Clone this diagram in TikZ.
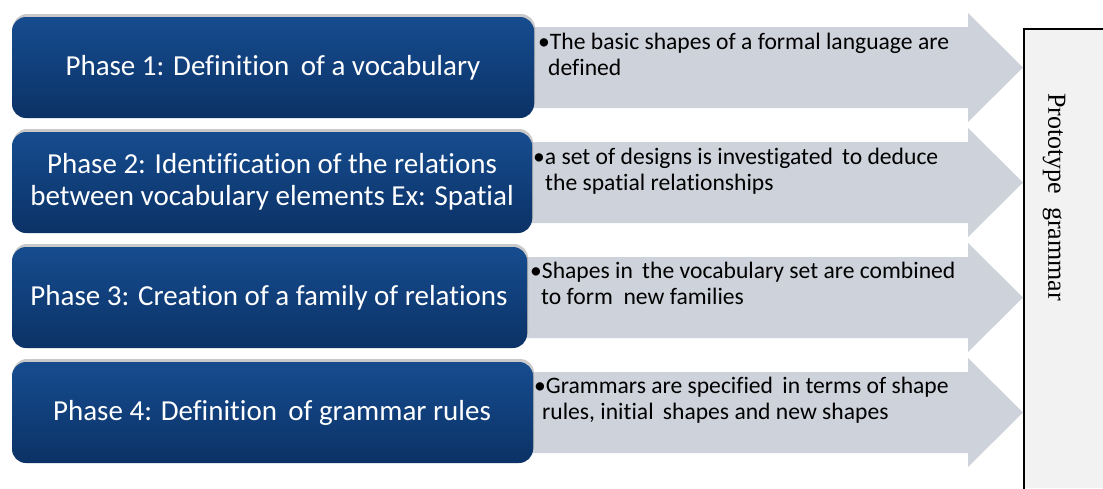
\documentclass[tikz,border=0pt]{standalone}
\usepackage{fontspec}
\setmainfont{Carlito}[Ligatures=NoCommon]
\newfontfamily\timesfont{Liberation Serif}
\usetikzlibrary{shadows}
\definecolor{boxtop}{RGB}{22,76,143}
\definecolor{boxbot}{RGB}{11,50,102}
\definecolor{arrowgray}{RGB}{206,210,218}
\definecolor{panelgray}{RGB}{242,242,242}
\tikzset{
  phasebox/.style={rounded corners=14pt, top color=boxtop, bottom color=boxbot, draw=none,
    drop shadow={opacity=0.35, shadow xshift=1pt, shadow yshift=3pt, fill=black!60}},
  phasetext/.style={text=white, font=\fontsize{29}{31.5}\selectfont, align=center, inner sep=0pt},
  arrowshape/.style={fill=arrowgray, draw=none},
  arrowtext/.style={text=black, font=\fontsize{23.6}{25.5}\selectfont, align=left, inner sep=0pt, anchor=north west},
}
\begin{document}
\begin{tikzpicture}[x=1pt,y=-1pt]
\useasboundingbox (0,0) rectangle (1103,488);
\fill[white] (0,0) rectangle (1103,488);
% right panel
\fill[panelgray] (1024,29) rectangle (1103,488);
\draw[line width=1.4pt, line cap=rect] (1103,29) -- (1024,29) -- (1024,488);
\node[font=\timesfont\fontsize{26}{28}\selectfont, rotate=-90, anchor=west, inner sep=0pt] (proto) at (1054,93) {Prototype \ grammar};
% arrows
\foreach \c in {67.5,182.5,297.5,412.5}{
  \fill[arrowshape] (520,\c-40.5) -- (968,\c-40.5) -- (968,\c-54.5) -- (1023,\c) -- (968,\c+54.5) -- (968,\c+40.5) -- (520,\c+40.5) -- cycle;
}
% phase boxes
\path[phasebox] (12,17) rectangle (534,118);
\path[phasebox] (12,132) rectangle (532,233);
\path[phasebox] (12,247) rectangle (527,348);
\path[phasebox] (12,362) rectangle (533,463);
\node[phasetext] (p1) at (273,67.5) {Phase 1: Definition \,of a vocabulary};
\node[phasetext] (p2) at (272,182) {Phase 2: Identification of the relations\\between vocabulary elements Ex: Spatial};
\node[phasetext] (p3) at (269,297.5) {Phase 3: Creation of a family of relations};
\node[phasetext] (p4) at (272,412.5) {Phase 4: Definition \,of grammar rules};
% arrow texts
\node[arrowtext] (t1) at (538,33) {•The basic shapes of a formal language are\\\hspace*{10pt}defined};
\node[arrowtext] (t2) at (533,148) {•a set of designs is investigated \,to deduce\\\hspace*{12pt}the spatial relationships};
\node[arrowtext] (t3) at (530,262) {•Shapes in \,the vocabulary set are combined\\\hspace*{11pt}to form \ new families};
\node[arrowtext] (t4) at (534,377) {•Grammars are specified \,in terms of shape\\\hspace*{8pt}rules, initial \,shapes and new shapes};
\end{tikzpicture}
\end{document}
